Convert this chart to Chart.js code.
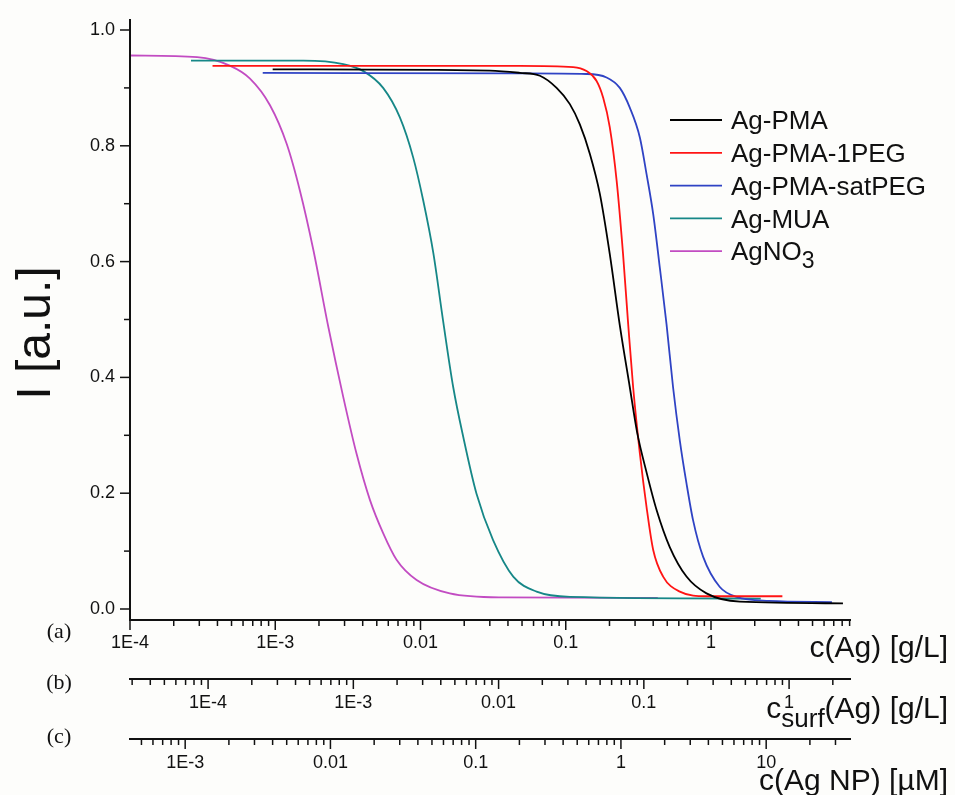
<!DOCTYPE html>
<html>
<head>
<meta charset="utf-8">
<script src="https://cdn.jsdelivr.net/npm/chart.js@4.4.0/dist/chart.umd.min.js"></script>
<style>
    html, body { margin: 0; padding: 0; background: #fdfdfb; }
    #wrap { width: 955px; height: 795px; position: relative; }
</style>
</head>
<body>
<div id="wrap"><canvas id="chart"></canvas></div>
<script>
// series (x in g/L, y in a.u.)
const seriesNames = ['Ag-PMA', 'Ag-PMA-1PEG', 'Ag-PMA-satPEG', 'Ag-MUA', 'AgNO_{3}'];
const seriesColors = ['#000000', '#ff1414', '#2f43c4', '#168787', '#c24cc2'];

const pmaX = [9.6e-4, 0.03, 0.0483, 0.0664, 0.0865, 0.1067, 0.125, 0.1466, 0.1717, 0.201, 0.2356, 0.276, 0.31, 0.36, 0.422, 0.52, 0.678, 0.931, 1.58, 8.1];
const pmaY = [0.932, 0.930, 0.926, 0.921, 0.900, 0.872, 0.837, 0.786, 0.717, 0.613, 0.490, 0.383, 0.305, 0.236, 0.171, 0.107, 0.056, 0.027, 0.0126, 0.0098];

const peg1X = [3.7e-4, 0.0483, 0.1125, 0.139, 0.163, 0.181, 0.201, 0.224, 0.248, 0.269, 0.291, 0.324, 0.36, 0.40, 0.468, 0.61, 0.931, 3.1];
const peg1Y = [0.938, 0.938, 0.936, 0.929, 0.912, 0.883, 0.832, 0.740, 0.613, 0.492, 0.383, 0.268, 0.176, 0.102, 0.056, 0.030, 0.022, 0.022];

const satPegX = [8.2e-4, 0.0483, 0.139, 0.191, 0.2356, 0.276, 0.324, 0.36, 0.40, 0.444, 0.494, 0.548, 0.61, 0.678, 0.753, 0.883, 1.15, 1.5, 2.5, 6.8];
const satPegY = [0.926, 0.925, 0.924, 0.918, 0.900, 0.866, 0.814, 0.751, 0.682, 0.590, 0.492, 0.383, 0.291, 0.217, 0.153, 0.090, 0.038, 0.021, 0.014, 0.012];

const muaX = [2.63e-4, 1.56e-3, 2.94e-3, 4.04e-3, 5.53e-3, 7.21e-3, 8.9e-3, 0.01045, 0.01225, 0.0143, 0.0168, 0.0197, 0.0243, 0.0316, 0.0435, 0.063, 0.107, 2.2];
const muaY = [0.947, 0.947, 0.941, 0.929, 0.900, 0.849, 0.780, 0.705, 0.615, 0.498, 0.383, 0.297, 0.199, 0.119, 0.056, 0.030, 0.021, 0.018];

const agno3X = [1e-4, 2.9e-4, 4.9e-4, 6.7e-4, 9.2e-4, 1.2e-3, 1.48e-3, 1.83e-3, 2.32e-3, 2.94e-3, 3.63e-3, 4.49e-3, 5.53e-3, 6.84e-3, 9.4e-3, 0.0159, 0.037, 0.43];
const agno3Y = [0.956, 0.953, 0.938, 0.916, 0.870, 0.803, 0.722, 0.620, 0.487, 0.366, 0.268, 0.188, 0.131, 0.085, 0.050, 0.027, 0.020, 0.019];

const seriesX = [pmaX, peg1X, satPegX, muaX, agno3X];
const seriesY = [pmaY, peg1Y, satPegY, muaY, agno3Y];

// axes: (a) c(Ag), (b) c_surf(Ag), (c) c(Ag NP)
const xMinA = 1e-4;
const xMaxA = 9.2;
const surfFactor = 0.29;   // c_surf per c(Ag)
const npFactor = 4.17;     // uM NP per g/L Ag

const xTicksA = [1e-4, 1e-3, 0.01, 0.1, 1];
const xLabelsA = ['1E-4', '1E-3', '0.01', '0.1', '1'];
const xTicksB = [1e-4, 1e-3, 0.01, 0.1, 1];
const xLabelsB = ['1E-4', '1E-3', '0.01', '0.1', '1'];
const xTicksC = [1e-3, 0.01, 0.1, 1, 10];
const xLabelsC = ['1E-3', '0.01', '0.1', '1', '10'];
const yTicks = [0, 0.2, 0.4, 0.6, 0.8, 1.0];
const yLabels = ['0.0', '0.2', '0.4', '0.6', '0.8', '1.0'];
const yMinorTicks = [0.1, 0.3, 0.5, 0.7, 0.9];

const axisTitles = ['c(Ag) [g/L]', 'c_{surf}(Ag) [g/L]', 'c(Ag NP) [µM]'];
const axisTags = ['(a)', '(b)', '(c)'];
const yTitle = 'I [a.u.]';

const FONT = '"Liberation Sans", Arial, Helvetica, sans-serif';
Chart.defaults.font.family = FONT;
Chart.defaults.color = '#111';

// split "AgNO_{3}" into normal / subscript pieces
function richParts(str) {
    const parts = [];
    const re = /_\{([^}]*)\}/g;
    let last = 0, m;
    while ((m = re.exec(str))) {
        if (m.index > last) parts.push({ text: str.slice(last, m.index), sub: false });
        parts.push({ text: m[1], sub: true });
        last = re.lastIndex;
    }
    if (last < str.length) parts.push({ text: str.slice(last), sub: false });
    return parts;
}

function drawRich(ctx, str, x, y, size, align) {
    const parts = richParts(str);
    const fontFor = p => `${p.sub ? Math.round(size * 0.88) : size}px ${FONT}`;
    let total = 0;
    parts.forEach(p => {
        ctx.font = fontFor(p);
        p.w = ctx.measureText(p.text).width;
        total += p.w;
    });
    let cx = align === 'right' ? x - total : x;
    ctx.textAlign = 'left';
    ctx.textBaseline = 'alphabetic';
    parts.forEach(p => {
        ctx.font = fontFor(p);
        ctx.fillText(p.text, cx, y + (p.sub ? size * 0.3 : 0));
        cx += p.w;
    });
}

function stroke(ctx, x1, y1, x2, y2) {
    ctx.beginPath();
    ctx.moveTo(x1, y1);
    ctx.lineTo(x2, y2);
    ctx.stroke();
}

const hidden = 'rgba(0,0,0,0)';

function logAxis(min, max, weight, tickValues, tickLabels, height, padding) {
    return {
        type: 'logarithmic',
        position: 'bottom',
        weight: weight,
        min: min,
        max: max,
        afterBuildTicks: s => { s.ticks = tickValues.map(v => ({ value: v, major: true })); },
        afterFit: s => { s.height = height; },
        border: { display: false },
        grid: { display: true, drawOnChartArea: false, drawTicks: true, tickLength: 9, color: hidden, tickColor: hidden },
        ticks: {
            autoSkip: false,
            maxRotation: 0,
            padding: padding,
            font: { size: 18 },
            callback: (v, i) => tickLabels[i]
        }
    };
}

const decorPlugin = {
    id: 'decor',
    afterDraw(chart) {
        const ctx = chart.ctx;
        const area = chart.chartArea;
        ctx.save();
        ctx.strokeStyle = '#111';
        ctx.fillStyle = '#111';

        // y axis line + ticks
        const ys = chart.scales.y;
        ctx.lineWidth = 2;
        stroke(ctx, area.left, area.top, area.left, area.bottom + 1);
        ctx.lineWidth = 1.5;
        yTicks.forEach(v => { const p = ys.getPixelForValue(v); stroke(ctx, area.left - 10, p, area.left, p); });
        yMinorTicks.forEach(v => { const p = ys.getPixelForValue(v); stroke(ctx, area.left - 6, p, area.left, p); });

        // the three log axes
        ['x', 'xb', 'xc'].forEach((id, k) => {
            const s = chart.scales[id];
            ctx.lineWidth = 2;
            stroke(ctx, s.left - 1, s.top, s.right, s.top);
            ctx.lineWidth = 1.5;
            const e0 = Math.floor(Math.log10(s.min));
            const e1 = Math.ceil(Math.log10(s.max));
            for (let e = e0; e <= e1; e++) {
                for (let m = 1; m <= 9; m++) {
                    const v = m * Math.pow(10, e);
                    if (v < s.min * 0.9999 || v > s.max * 1.0001) continue;
                    const p = s.getPixelForValue(v);
                    stroke(ctx, p, s.top, p, s.top + (m === 1 ? 10 : 6));
                }
            }
            // axis title at the right edge and the (a)/(b)/(c) tag at the left
            drawRich(ctx, axisTitles[k], 948, s.top + [37, 39, 51][k], 30, 'right');
            ctx.font = `22px "Liberation Serif", "Times New Roman", serif`;
            ctx.textAlign = 'center';
            ctx.textBaseline = 'middle';
            ctx.fillText(axisTags[k], 59, s.top + [12, 4, -2][k]);
        });

        // y title
        ctx.save();
        ctx.translate(50, 333);
        ctx.rotate(-Math.PI / 2);
        ctx.font = `48px ${FONT}`;
        ctx.textAlign = 'center';
        ctx.textBaseline = 'alphabetic';
        ctx.fillText(yTitle, 0, 0);
        ctx.restore();

        // legend
        const legendX = 670, legendY = 120, rowH = 32.8;
        chart.data.datasets.forEach((ds, i) => {
            const y = legendY + i * rowH;
            ctx.strokeStyle = ds.borderColor;
            ctx.lineWidth = 1.8;
            stroke(ctx, legendX, y, legendX + 52, y);
            ctx.fillStyle = '#111';
            drawRich(ctx, seriesNames[i], legendX + 61, y + 9.2, 26, 'left');
        });
        ctx.restore();
    }
};

const datasets = seriesNames.map((name, i) => ({
    label: name.replace(/_\{([^}]*)\}/g, '$1'),
    data: seriesX[i].map((x, j) => ({ x: x, y: seriesY[i][j] })),
    borderColor: seriesColors[i],
    backgroundColor: seriesColors[i],
    borderWidth: 1.8,
    pointRadius: 0,
    showLine: true,
    cubicInterpolationMode: 'monotone',
    xAxisID: 'x',
    yAxisID: 'y'
}));

new Chart(document.getElementById('chart'), {
    type: 'scatter',
    data: { datasets: datasets },
    options: {
        responsive: true,
        maintainAspectRatio: false,
        animation: false,
        layout: { padding: { top: 19, right: 104, left: 0, bottom: 0 } },
        plugins: {
            legend: { display: false },
            tooltip: { enabled: false }
        },
        scales: {
            x: logAxis(xMinA, xMaxA, 0, xTicksA, xLabelsA, 59, 3),
            xb: logAxis(xMinA * surfFactor, xMaxA * surfFactor, 1, xTicksB, xLabelsB, 60, 4),
            xc: logAxis(xMinA * npFactor, xMaxA * npFactor, 2, xTicksC, xLabelsC, 56, 4),
            y: {
                type: 'linear',
                position: 'left',
                min: -0.019,
                max: 1.019,
                afterBuildTicks: s => { s.ticks = yTicks.map(v => ({ value: v })); },
                afterFit: s => { s.width = 130; },
                border: { display: false },
                grid: { display: true, drawOnChartArea: false, drawTicks: true, tickLength: 9, color: hidden, tickColor: hidden },
                ticks: { padding: 6, font: { size: 18 }, callback: (v, i) => yLabels[i] }
            }
        }
    },
    plugins: [decorPlugin]
});
</script>
</body>
</html>
